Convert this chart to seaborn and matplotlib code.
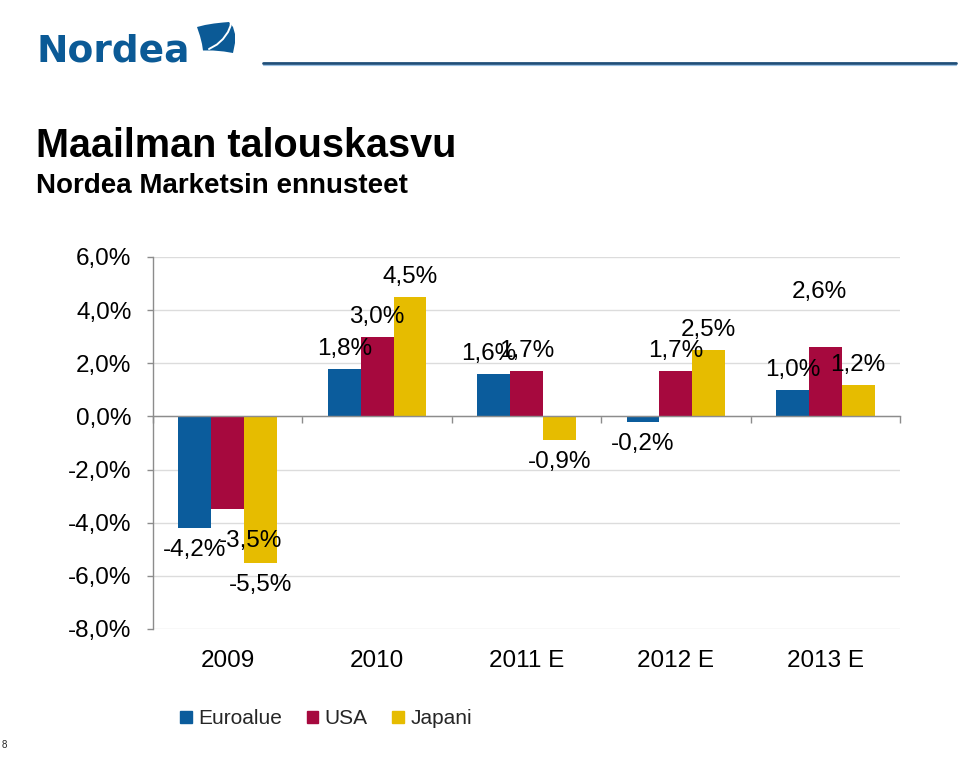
import matplotlib
matplotlib.use("Agg")
import matplotlib.pyplot as plt
import seaborn as sns
import pandas as pd
import numpy as np
from matplotlib.patches import Polygon, Rectangle
from matplotlib.lines import Line2D

# ---- data ----
years = ["2009", "2010", "2011 E", "2012 E", "2013 E"]
series = ["Euroalue", "USA", "Japani"]
euroalue = [-4.2, 1.8, 1.6, -0.2, 1.0]
usa = [-3.5, 3.0, 1.7, 1.7, 2.6]
japani = [-5.5, 4.5, -0.9, 2.5, 1.2]
yticks = [-8, -6, -4, -2, 0, 2, 4, 6]

colors = ["#0B5C9C", "#A6093E", "#E6BC00"]
values = {"Euroalue": euroalue, "USA": usa, "Japani": japani}

sns.set_theme(style="white")
plt.rcParams["font.family"] = ["Liberation Sans", "DejaVu Sans"]

df = pd.DataFrame({
    "year": years * 3,
    "series": [s for s in series for _ in years],
    "value": euroalue + usa + japani,
})

W, H = 960, 776
fig = plt.figure(figsize=(W / 100, H / 100), dpi=100)
fig.patch.set_facecolor("white")


def fx(px):
    return px / W


def fy(py):
    return 1 - py / H


ax = fig.add_axes([fx(153), fy(629), (900 - 153) / W, (629 - 257) / H])
sns.barplot(data=df, x="year", y="value", hue="series", order=years,
            hue_order=series, palette=colors, saturation=1, width=0.66,
            errorbar=None, legend=False, ax=ax, linewidth=0)
ax.set_xlim(-0.5, 4.5)
ax.set_ylim(-8, 6)
ax.set_xlabel("")
ax.set_ylabel("")
ax.set_facecolor("none")

# grid
ax.set_axisbelow(True)
ax.yaxis.grid(True, color="#DCDCDC", lw=1)
ax.xaxis.grid(False)

# spines
for s in ["top", "right"]:
    ax.spines[s].set_visible(False)
ax.spines["left"].set_color("#8C8C8C")
ax.spines["left"].set_linewidth(1)
ax.spines["bottom"].set_position(("data", 0))
ax.spines["bottom"].set_color("#8C8C8C")
ax.spines["bottom"].set_linewidth(1)

# y ticks
ax.set_yticks(yticks)
ax.set_yticklabels([f"{v:.1f}%".replace(".", ",") for v in yticks])
ax.tick_params(axis="y", left=True, direction="out", length=4.5, width=1,
               color="#8C8C8C", labelsize=17.5, pad=11, labelcolor="black")

# x ticks on the zero line (boundaries only)
ax.set_xticks(range(len(years)))
ax.set_xticklabels([])
ax.tick_params(axis="x", which="major", length=0)
ax.set_xticks(np.arange(-0.5, len(years), 1), minor=True)
ax.tick_params(axis="x", which="minor", bottom=True, direction="out",
               length=5, width=1, color="#8C8C8C")

sec = ax.secondary_xaxis("bottom")
sec.set_xticks(range(len(years)), labels=years)
sec.tick_params(length=0, labelsize=17.5, pad=15, labelcolor="black")
sec.spines["bottom"].set_visible(False)

# data labels
nudges = {("USA", "2009"): (23, -10), ("USA", "2013 E"): (-6, 35),
          ("Euroalue", "2011 E"): (-5, 0)}
for s, cont in zip(series, ax.containers):
    for yr, bar, v in zip(years, cont, values[s]):
        x = bar.get_x() + bar.get_width() / 2
        dx, dy = nudges.get((s, yr), (0, 0))
        off = 20 if v >= 0 else -22
        lab = f"{v:.1f}%".replace(".", ",")
        ax.annotate(lab, (x, v), xytext=(dx, off + dy),
                    textcoords="offset pixels", ha="center", va="center",
                    fontsize=17.5, color="black", annotation_clip=False)

# legend
handles = [Rectangle((0, 0), 1, 1, color=c) for c in colors]
fig.legend(handles, series, loc="center", bbox_to_anchor=(fx(326), fy(719)),
           ncol=3, frameon=False, fontsize=15, handlelength=0.55,
           handleheight=0.55, handletextpad=0.3, columnspacing=1.2,
           borderaxespad=0)

# titles
fig.text(fx(36), fy(157), "Maailman talouskasvu", fontsize=28.5,
         fontweight="bold", va="baseline", ha="left", color="black")
fig.text(fx(36), fy(193), "Nordea Marketsin ennusteet", fontsize=20,
         fontweight="bold", va="baseline", ha="left", color="black")

# logo
logo_blue = "#0B5A96"
fig.text(fx(36), fy(62), "Nordea", fontsize=27, family="DejaVu Sans",
         fontweight="bold", color=logo_blue, va="baseline", ha="left")
sail = [(197, 27), (205, 25), (214, 23.5), (223, 22.5), (229, 22),
        (233, 27), (235, 34), (235, 43), (233, 53), (224, 51.5),
        (213, 50.5), (203, 50.5), (202, 44), (200, 36)]
fig.patches.append(Polygon([(fx(a), fy(b)) for a, b in sail], closed=True,
                           transform=fig.transFigure, facecolor=logo_blue,
                           edgecolor="none"))
fig.lines.append(Line2D([fx(209), fx(217), fx(223), fx(228), fx(230.5), fx(231)],
                        [fy(49), fy(44.5), fy(39), fy(32), fy(26), fy(21)],
                        transform=fig.transFigure, color="white", lw=1.4))

# header rule
fig.lines.append(Line2D([fx(263), fx(956)], [fy(63), fy(63)],
                        transform=fig.transFigure, color="#1F4E79", lw=2))
fig.lines.append(Line2D([fx(263), fx(956)], [fy(65), fy(65)],
                        transform=fig.transFigure, color="#9DC3E6", lw=0.8))

# page number
fig.text(fx(2), fy(748), "8", fontsize=7, va="baseline", ha="left")

fig.savefig("out.png", dpi=100)
